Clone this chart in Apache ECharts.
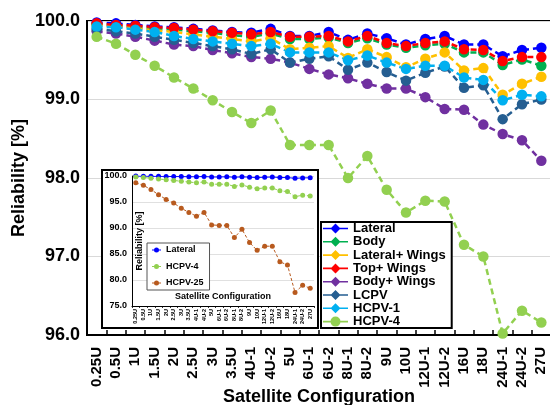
<!DOCTYPE html>
<html>
<head>
<meta charset="utf-8">
<script src="https://cdn.jsdelivr.net/npm/echarts@6/dist/echarts.min.js"></script>
<style>
html,body{margin:0;padding:0;background:#fff;}
#chart{width:550px;height:405px;}
</style>
</head>
<body>
<div id="chart"></div>
<script>
const categories = ['0.25U','0.5U','1U','1.5U','2U','2.5U','3U','3.5U','4U-1','4U-2','5U','6U-1','6U-2','8U-1','8U-2','9U','10U','12U-1','12U-2','16U','18U','24U-1','24U-2','27U'];
const lateral   = [99.98,99.97,99.95,99.93,99.92,99.90,99.88,99.86,99.85,99.90,99.81,99.81,99.86,99.76,99.84,99.78,99.70,99.77,99.81,99.70,99.70,99.55,99.63,99.66];
const body      = [99.96,99.94,99.92,99.90,99.89,99.87,99.85,99.82,99.80,99.84,99.77,99.77,99.79,99.72,99.78,99.70,99.66,99.69,99.71,99.60,99.60,99.44,99.51,99.43];
const latWings  = [99.95,99.93,99.91,99.88,99.86,99.83,99.80,99.77,99.74,99.78,99.64,99.66,99.68,99.53,99.64,99.54,99.41,99.52,99.60,99.37,99.40,99.06,99.20,99.29];
const topWings  = [99.97,99.95,99.94,99.92,99.91,99.89,99.87,99.85,99.83,99.86,99.80,99.80,99.81,99.74,99.81,99.72,99.68,99.72,99.74,99.64,99.63,99.49,99.54,99.54];
const bodyWings = [99.87,99.84,99.80,99.75,99.70,99.68,99.63,99.59,99.54,99.52,99.47,99.39,99.32,99.27,99.20,99.14,99.14,99.03,98.88,98.87,98.68,98.56,98.48,98.22];
const lcpv      = [99.90,99.87,99.84,99.80,99.76,99.72,99.68,99.64,99.58,99.64,99.47,99.52,99.55,99.38,99.47,99.35,99.24,99.34,99.42,99.15,99.18,98.75,98.94,99.00];
const hcpv1     = [99.93,99.92,99.89,99.86,99.81,99.77,99.74,99.71,99.68,99.71,99.60,99.60,99.60,99.50,99.56,99.47,99.39,99.43,99.43,99.28,99.25,98.99,99.06,99.04];
const hcpv4     = [99.80,99.71,99.57,99.43,99.28,99.14,98.99,98.84,98.70,98.86,98.42,98.42,98.42,98.00,98.28,97.85,97.56,97.71,97.70,97.15,97.00,96.02,96.31,96.16];
const hcpv25    = [98.7,98.2,97.4,96.4,95.5,94.8,93.8,93.0,92.25,93.0,90.6,90.5,90.5,88.15,89.75,87.2,85.7,86.5,86.5,83.5,82.9,77.6,79.0,78.4];
const mainYTicks = {min: 96, max: 100, interval: 1};
const insetYTicks = {min: 75, max: 100, interval: 5};

const FONT = "'Liberation Sans', Arial, sans-serif";
const mainSeries = [
  {name: 'Lateral', data: lateral, color: '#0000FF'},
  {name: 'Body', data: body, color: '#00B050'},
  {name: 'Lateral+ Wings', data: latWings, color: '#FFC000'},
  {name: 'Top+ Wings', data: topWings, color: '#FF0000'},
  {name: 'Body+ Wings', data: bodyWings, color: '#7030A0'},
  {name: 'LCPV', data: lcpv, color: '#255E91'},
  {name: 'HCPV-1', data: hcpv1, color: '#00B0F0'},
  {name: 'HCPV-4', data: hcpv4, color: '#92D050'}
];
const insetSeries = [
  {name: 'Lateral ', data: lateral, color: '#0000FF', line: 'solid'},
  {name: 'HCPV-4 ', data: hcpv4, color: '#92D050', line: [3,2]},
  {name: 'HCPV-25', data: hcpv25, color: '#B85A1E', line: [3,2]}
];

const diamondIcon = 'path://M0,4.2 L25,4.2 L25,5.8 L0,5.8 Z M12.5,0 L17.5,5 L12.5,10 L7.5,5 Z';
const circleIcon = 'path://M0,4.2 L25,4.2 L25,5.8 L0,5.8 Z M17.5,5 A5,5 0 1,1 7.5,5 A5,5 0 1,1 17.5,5 Z';
const smallIcon = 'path://M0,2.6 L9,2.6 L9,3.4 L0,3.4 Z M7,3 A2.5,2.5 0 1,1 2,3 A2.5,2.5 0 1,1 7,3 Z';

const series = [];
mainSeries.forEach(s => {
  series.push({
    name: s.name, type: 'line', xAxisIndex: 0, yAxisIndex: 0, data: s.data,
    symbol: 'circle', symbolSize: 10.5, z: 2,
    itemStyle: {color: s.color},
    lineStyle: {color: s.color, width: 2.5, type: [6, 4]},
    animation: false
  });
});
insetSeries.forEach(s => {
  series.push({
    name: s.name, type: 'line', xAxisIndex: 1, yAxisIndex: 1, data: s.data,
    symbol: 'circle', symbolSize: 5, z: 6,
    itemStyle: {color: s.color},
    lineStyle: {color: s.color, width: 1, type: s.line},
    animation: false
  });
});

const chart = echarts.init(document.getElementById('chart'), null, {renderer: 'canvas'});
chart.setOption({
  backgroundColor: '#fff',
  animation: false,
  textStyle: {fontFamily: FONT},
  grid: [
    {left: 87, top: 21, width: 464, bottom: 70, show: true, borderColor: '#000', borderWidth: 2, backgroundColor: 'transparent', containLabel: false, outerBoundsMode: 'none'},
    {left: 132, top: 176, width: 182, height: 130, containLabel: false, outerBoundsMode: 'none'}
  ],
  graphic: [
    {type: 'rect', z: 3, shape: {x: 102, y: 170, width: 216, height: 158},
     style: {fill: '#fff', stroke: '#000', lineWidth: 2}}
  ],
  legend: [
    {
      left: 321, top: 222, orient: 'vertical',
      backgroundColor: '#fff', borderColor: '#000', borderWidth: 2,
      padding: [0, 6, 0, 2], itemGap: 0.3, itemWidth: 25, itemHeight: 10,
      textStyle: {fontFamily: FONT, fontWeight: 'bold', fontSize: 13, color: '#000', lineHeight: 13},
      selectedMode: false, z: 4,
      data: mainSeries.map((s, i) => ({name: s.name, icon: i < 7 ? diamondIcon : circleIcon}))
    },
    {
      left: 147, top: 243, orient: 'vertical',
      backgroundColor: '#fff', borderColor: '#555', borderWidth: 1,
      padding: [1, 6, 1, 5], itemGap: 4.5, itemWidth: 9, itemHeight: 6,
      textStyle: {fontFamily: FONT, fontWeight: 'bold', fontSize: 9, color: '#000', lineHeight: 12},
      selectedMode: false, z: 8,
      data: insetSeries.map(s => ({name: s.name, icon: smallIcon}))
    }
  ],
  xAxis: [
    {
      type: 'category', gridIndex: 0, data: categories, boundaryGap: true,
      name: 'Satellite Configuration', nameLocation: 'middle', nameGap: 53, nameMoveOverlap: false,
      nameTextStyle: {fontFamily: FONT, fontWeight: 'bold', fontSize: 18, color: '#000'},
      axisLine: {lineStyle: {color: '#000', width: 2}},
      axisTick: {show: true, inside: true, length: 5, lineStyle: {color: '#000', width: 1.5}},
      axisLabel: {interval: 0, rotate: 90, margin: 12, fontFamily: FONT, fontWeight: 'bold', fontSize: 15, color: '#000'},
      splitLine: {show: false}
    },
    {
      type: 'category', gridIndex: 1, data: categories, boundaryGap: true, z: 5,
      name: 'Satellite Configuration', nameLocation: 'middle', nameGap: -13.5, nameMoveOverlap: false,
      nameTextStyle: {fontFamily: FONT, fontWeight: 'bold', fontSize: 9, color: '#000'},
      axisLine: {lineStyle: {color: '#000', width: 1}},
      axisTick: {show: true, length: 2, lineStyle: {color: '#000', width: 0.8}},
      axisLabel: {interval: 0, rotate: 90, margin: 3, fontFamily: FONT, fontWeight: 'bold', fontSize: 5.5, color: '#000'},
      splitLine: {show: false}
    }
  ],
  yAxis: [
    {
      type: 'value', gridIndex: 0, min: mainYTicks.min, max: mainYTicks.max, interval: mainYTicks.interval,
      name: 'Reliability [%]', nameLocation: 'middle', nameGap: 59, nameMoveOverlap: false,
      nameTextStyle: {fontFamily: FONT, fontWeight: 'bold', fontSize: 18, color: '#000'},
      axisLine: {show: true, lineStyle: {color: '#000', width: 2}},
      axisTick: {show: false},
      axisLabel: {margin: 7, fontFamily: FONT, fontWeight: 'bold', fontSize: 18, color: '#000', formatter: v => v.toFixed(1)},
      splitLine: {show: true, lineStyle: {color: '#D9D9D9', width: 1}}
    },
    {
      type: 'value', gridIndex: 1, min: insetYTicks.min, max: insetYTicks.max, interval: insetYTicks.interval, z: 5,
      name: 'Reliability [%]', nameLocation: 'middle', nameGap: -12, nameMoveOverlap: false,
      nameTextStyle: {fontFamily: FONT, fontWeight: 'bold', fontSize: 9, color: '#000'},
      axisLine: {show: true, lineStyle: {color: '#000', width: 1}},
      axisTick: {show: false},
      axisLabel: {margin: 5, fontFamily: FONT, fontWeight: 'bold', fontSize: 9, color: '#000', formatter: v => v.toFixed(1)},
      splitLine: {show: true, lineStyle: {color: '#E0E0E0', width: 1}}
    }
  ],
  series: series
});
</script>
</body>
</html>
